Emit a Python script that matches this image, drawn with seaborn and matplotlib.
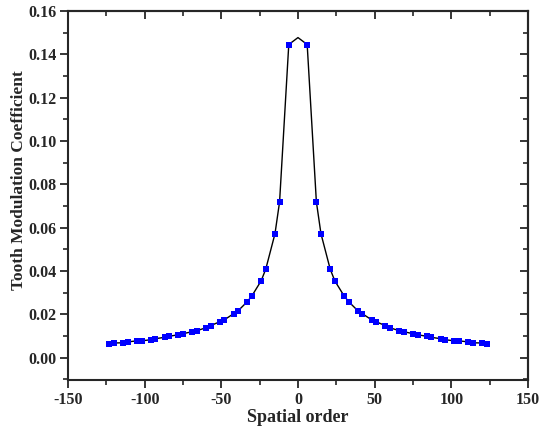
import matplotlib as mpl
import matplotlib.pyplot as plt
import numpy as np
import pandas as pd
import seaborn as sns

# spatial orders (positive side) and tooth modulation coefficient
orders_pos = [6, 12, 15, 21, 24, 30, 33, 39, 42, 48, 51, 57, 60,
              66, 69, 75, 78, 84, 87, 93, 96, 102, 105, 111, 114, 120, 123]
coef_pos = [0.1445, 0.0719, 0.0572, 0.0409, 0.0355, 0.0286, 0.0259, 0.0217, 0.0203,
            0.0175, 0.0166, 0.0148, 0.0138, 0.0125, 0.0120, 0.0111, 0.0106,
            0.0099, 0.0094, 0.0088, 0.0083, 0.0078, 0.0078, 0.0073, 0.0069,
            0.0068, 0.0065]
peak_value = 0.1477  # top of the curve at order 0 (no marker there)

x_ticks = [-150, -100, -50, 0, 50, 100, 150]
y_ticks = [0.00, 0.02, 0.04, 0.06, 0.08, 0.10, 0.12, 0.14, 0.16]

orders = np.concatenate([-np.array(orders_pos[::-1]), orders_pos])
coefs = np.concatenate([coef_pos[::-1], coef_pos])
df_pts = pd.DataFrame({'order': orders, 'coef': coefs})
df_line = pd.concat([df_pts, pd.DataFrame({'order': [0], 'coef': [peak_value]})]).sort_values('order')

sns.set_style('ticks')
plt.rcParams['font.family'] = ['Liberation Serif', 'DejaVu Serif']
plt.rcParams['font.weight'] = 'bold'

fig = plt.figure(figsize=(5.48, 4.28), dpi=100)
ax = fig.add_axes([0.124, 0.112, 0.8395, 0.8625])

sns.lineplot(x='order', y='coef', data=df_line, color='black', linewidth=1.0, sort=True, ax=ax)
sns.scatterplot(x='order', y='coef', data=df_pts, color='#0000ff', marker='s', s=22,
                linewidth=0, ax=ax, zorder=3)

ax.set_xlim(-150, 150)
ax.set_ylim(-0.0103, 0.16)
ax.set_xticks(x_ticks)
ax.set_yticks(y_ticks)
ax.set_xticklabels([str(t) for t in x_ticks])
ax.set_yticklabels(['%.2f' % t for t in y_ticks])
ax.xaxis.set_minor_locator(mpl.ticker.MultipleLocator(25))
ax.yaxis.set_minor_locator(mpl.ticker.MultipleLocator(0.01))
ax.tick_params(which='major', direction='out', length=6, width=1.3, labelsize=11.5, pad=2.5)
ax.tick_params(which='minor', direction='out', length=3.5, width=1.2)
for lbl in ax.get_xticklabels() + ax.get_yticklabels():
    lbl.set_fontweight('bold')

for sp in ax.spines.values():
    sp.set_linewidth(1.5)
    sp.set_visible(True)

# top / right axes with inward ticks, no labels
top = ax.secondary_xaxis('top')
top.set_xticks(x_ticks)
top.xaxis.set_minor_locator(mpl.ticker.MultipleLocator(25))
top.tick_params(which='major', direction='in', length=6, width=1.3, labeltop=False)
top.tick_params(which='minor', direction='in', length=3.5, width=1.2)
top.spines['top'].set_linewidth(1.5)
right = ax.secondary_yaxis('right')
right.set_yticks(y_ticks)
right.yaxis.set_minor_locator(mpl.ticker.MultipleLocator(0.01))
right.tick_params(which='major', direction='in', length=6, width=1.3, labelright=False)
right.tick_params(which='minor', direction='in', length=3.5, width=1.2)
right.spines['right'].set_linewidth(1.5)

ax.set_xlabel('Spatial order', fontsize=13, fontweight='bold', labelpad=1)
ax.set_ylabel('Tooth Modulation Coefficient', fontsize=12.5, fontweight='bold')
ax.yaxis.set_label_coords(-0.088, 0.542)

fig.savefig('out.png', dpi=100)
